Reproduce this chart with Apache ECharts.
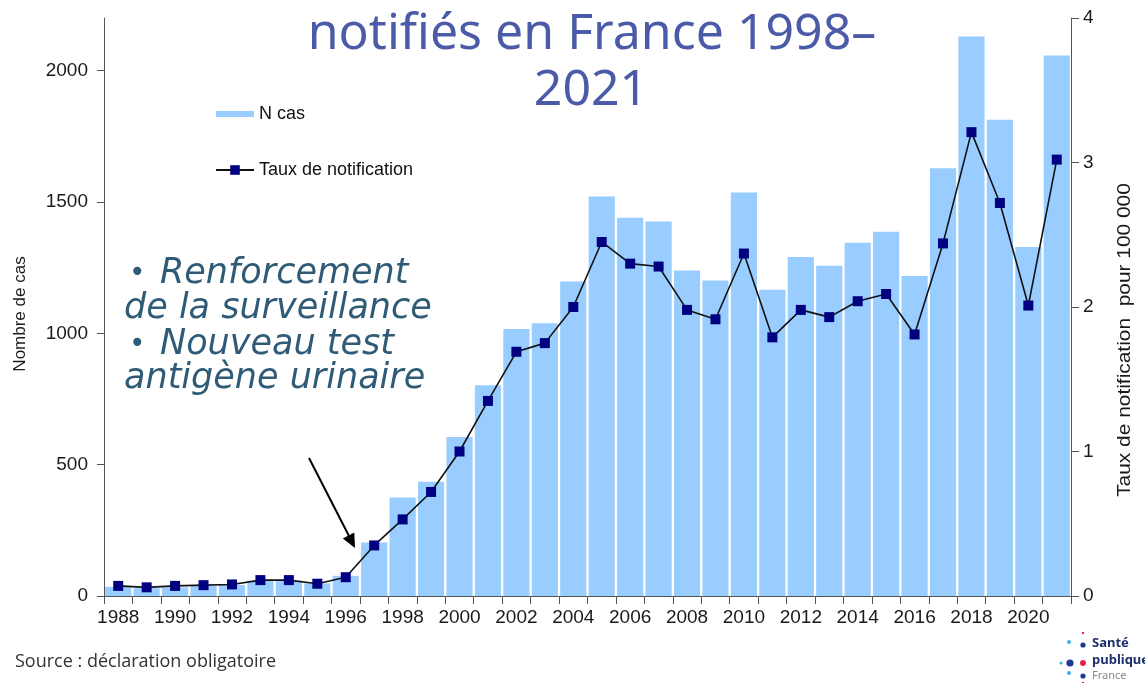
<!DOCTYPE html>
<html>
<head>
<meta charset="utf-8">
<script src="https://cdn.jsdelivr.net/npm/echarts@6/dist/echarts.min.js"></script>
<style>
html,body{margin:0;padding:0;background:#fff;}
#c{width:1145px;height:683px;}
</style>
</head>
<body>
<div id="c"></div>
<script>
const years = ['1988','1989','1990','1991','1992','1993','1994','1995','1996','1997','1998','1999','2000','2001','2002','2003','2004','2005','2006','2007','2008','2009','2010','2011','2012','2013','2014','2015','2016','2017','2018','2019','2020','2021'];
const nCas = [35,30,33,38,42,58,58,48,77,204,375,435,605,802,1016,1038,1197,1521,1440,1425,1239,1201,1536,1166,1290,1257,1345,1386,1218,1628,2130,1813,1328,2057];
const taux = [0.07,0.06,0.07,0.075,0.08,0.11,0.11,0.085,0.13,0.35,0.53,0.72,1.0,1.35,1.69,1.75,2.0,2.45,2.3,2.28,1.98,1.915,2.37,1.79,1.98,1.93,2.04,2.09,1.81,2.44,3.21,2.72,2.01,3.02];
const leftTicks = [0,500,1000,1500,2000];
const rightTicks = [0,1,2,3,4];

const chart = echarts.init(document.getElementById('c'));
const axisColor = '#555';
const labelFont = {fontFamily:'Liberation Sans', fontSize:19, color:'#1a1a1a'};
const annColor = '#2f5b77';
const annFont = {fontFamily:'DejaVu Sans', fontStyle:'italic', fontSize:35, fill:annColor};

chart.setOption({
  animation:false,
  backgroundColor:'#fff',
  grid:{left:104, right:74, top:18, bottom:87},
  legend:{
    orient:'vertical', left:210, top:100, itemGap:38,
    itemWidth:38, itemHeight:12,
    textStyle:{fontFamily:'Liberation Sans', fontSize:18, color:'#111'},
    data:[
      {name:'N cas', icon:'path://M0,0L38,0L38,6L0,6Z'},
      {name:'Taux de notification'}
    ]
  },
  xAxis:{
    type:'category', data:years, boundaryGap:true,
    axisLine:{lineStyle:{color:axisColor, width:1}},
    axisTick:{show:true, alignWithLabel:false, interval:0, length:8, lineStyle:{color:axisColor}},
    axisLabel:{interval:1, margin:12, ...labelFont},
    splitLine:{show:false}
  },
  yAxis:[
    {
      type:'value', min:0, max:2200, interval:500,
      axisLine:{show:true, lineStyle:{color:axisColor, width:1}},
      axisTick:{show:true, length:7, customValues:leftTicks, lineStyle:{color:axisColor}},
      axisLabel:{margin:16, customValues:leftTicks, formatter:v => String(v), ...labelFont},
      splitLine:{show:false}
    },
    {
      type:'value', min:0, max:4, interval:1, position:'right',
      axisLine:{show:true, lineStyle:{color:axisColor, width:1}},
      axisTick:{show:true, length:8, customValues:rightTicks, lineStyle:{color:axisColor}},
      axisLabel:{margin:12, customValues:rightTicks, formatter:v => String(v), ...labelFont},
      splitLine:{show:false}
    }
  ],
  series:[
    {
      name:'N cas', type:'bar', data:nCas, yAxisIndex:0,
      barCategoryGap:'8%',
      itemStyle:{color:'#99ccff'}
    },
    {
      name:'Taux de notification', type:'line', data:taux, yAxisIndex:1,
      symbol:'rect', symbolSize:10, showAllSymbol:true,
      itemStyle:{color:'#000080'},
      lineStyle:{color:'#111', width:1.6},
      z:5
    }
  ],
  graphic:[
    {type:'text', x:20, y:314, rotation:Math.PI/2, style:{x:0, y:0, text:'Nombre de cas', align:'center', verticalAlign:'middle', fontFamily:'Liberation Sans', fontSize:17, fill:'#1a1a1a'}},
    {type:'text', x:1125, y:340, rotation:Math.PI/2, scaleX:1.1, style:{x:0, y:0, text:'Taux de notification  pour 100 000', align:'center', verticalAlign:'middle', fontFamily:'Liberation Sans', fontSize:19, fill:'#1a1a1a'}},
    {type:'text', style:{x:592, y:35, text:'notifiés en France 1998–', align:'center', verticalAlign:'middle', fontFamily:'Noto Sans', fontSize:50, fill:'#4b5ba8'}, z:10},
    {type:'text', style:{x:591, y:91, text:'2021', align:'center', verticalAlign:'middle', fontFamily:'Noto Sans', fontSize:50, fill:'#4b5ba8'}, z:10},
    {type:'text', style:{x:129, y:274, text:'•', verticalAlign:'middle', ...annFont, fontSize:28}, z:10},
    {type:'text', style:{x:160, y:274, text:'Renforcement', verticalAlign:'middle', ...annFont}, z:10},
    {type:'text', style:{x:124, y:309, text:'de la surveillance', verticalAlign:'middle', ...annFont}, z:10},
    {type:'text', style:{x:129, y:345, text:'•', verticalAlign:'middle', ...annFont, fontSize:28}, z:10},
    {type:'text', style:{x:160, y:345, text:'Nouveau test', verticalAlign:'middle', ...annFont}, z:10},
    {type:'text', style:{x:124, y:379, text:'antigène urinaire', verticalAlign:'middle', ...annFont}, z:10},
    {type:'line', shape:{x1:309, y1:458, x2:349, y2:536}, style:{stroke:'#000', lineWidth:2}, z:10},
    {type:'polygon', shape:{points:[[342.8,538.5],[354.3,532.6],[355,548]]}, style:{fill:'#000'}, z:10},
    {type:'text', style:{x:15, y:662, text:'Source : déclaration obligatoire', verticalAlign:'middle', fontFamily:'Open Sans', fontSize:18, fill:'#333'}, z:10},
    {type:'circle', shape:{cx:1083, cy:633, r:1.2}, style:{fill:'#e4244e'}},
    {type:'circle', shape:{cx:1069, cy:642, r:2}, style:{fill:'#3cb4e6'}},
    {type:'circle', shape:{cx:1083, cy:645, r:2.6}, style:{fill:'#1d3a9a'}},
    {type:'circle', shape:{cx:1061, cy:663, r:1.5}, style:{fill:'#3cb4e6'}},
    {type:'circle', shape:{cx:1070, cy:663, r:3.6}, style:{fill:'#1d3a9a'}},
    {type:'circle', shape:{cx:1083, cy:663, r:3}, style:{fill:'#e4244e'}},
    {type:'circle', shape:{cx:1069, cy:673, r:2}, style:{fill:'#3cb4e6'}},
    {type:'circle', shape:{cx:1083, cy:676, r:2.6}, style:{fill:'#1d3a9a'}},
    {type:'circle', shape:{cx:1083, cy:683, r:1.2}, style:{fill:'#e4244e'}},
    {type:'text', style:{x:1092, y:643, text:'Santé', verticalAlign:'middle', fontFamily:'Noto Sans', fontWeight:'bold', fontSize:13, fill:'#1d2f6e'}},
    {type:'text', style:{x:1092, y:660, text:'publique', verticalAlign:'middle', fontFamily:'Noto Sans', fontWeight:'bold', fontSize:13, fill:'#1d2f6e'}},
    {type:'text', style:{x:1092, y:676, text:'France', verticalAlign:'middle', fontFamily:'Noto Sans', fontSize:11, fill:'#888'}}
  ]
});
</script>
</body>
</html>
